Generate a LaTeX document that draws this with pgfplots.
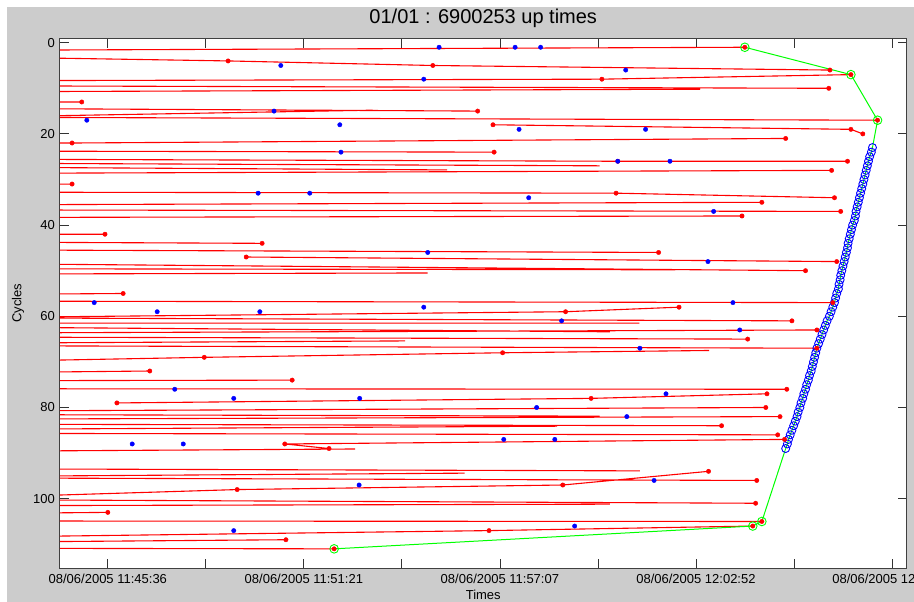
\documentclass[border=0pt]{standalone}
\usepackage{fontspec}
\setmainfont{Liberation Sans}
\usepackage{pgfplots}
\usepackage{pgfplotstable}
\pgfplotsset{compat=1.18}
\definecolor{figbg}{RGB}{204,204,204}
\definecolor{mred}{RGB}{255,0,0}
\definecolor{mblue}{RGB}{0,0,255}
\definecolor{mgreen}{RGB}{0,255,0}
\pgfplotstableread{
t c
1348 23
1346 24
1343 25
1341 26
1339 27
1337 28
1335 29
1333 30
1331 31
1329 32
1327 33
1325 34
1323 35
1321 36
1319 37
1318 38
1316 39
1313 40
1311 41
1309 42
1307 43
1305 44
1304 45
1302 46
1300 47
1298 48
1296 49
1294 50
1292 51
1291 52
1289 53
1288 54
1285 55
1283 56
1281 57
1278 58
1275 59
1272 60
1268 61
1265 62
1262 63
1259 64
1256 65
1253 66
1250 67
1248 68
1246 69
1244 70
1242 71
1240 72
1237 73
1235 74
1232 75
1230 76
1227 77
1225 78
1222 79
1220 80
1217 81
1215 82
1212 83
1209 84
1206 85
1203 86
1200 87
1198 88
1195 89
}\circles
\pgfplotstableread{
t c
1123 1
1310 7
1357 17
1348 23
1346 24
1343 25
1341 26
1339 27
1337 28
1335 29
1333 30
1331 31
1329 32
1327 33
1325 34
1323 35
1321 36
1319 37
1318 38
1316 39
1313 40
1311 41
1309 42
1307 43
1305 44
1304 45
1302 46
1300 47
1298 48
1296 49
1294 50
1292 51
1291 52
1289 53
1288 54
1285 55
1283 56
1281 57
1278 58
1275 59
1272 60
1268 61
1265 62
1262 63
1259 64
1256 65
1253 66
1250 67
1248 68
1246 69
1244 70
1242 71
1240 72
1237 73
1235 74
1232 75
1230 76
1227 77
1225 78
1222 79
1220 80
1217 81
1215 82
1212 83
1209 84
1206 85
1203 86
1200 87
1198 88
1195 89
1153 105
1137 106
399 111
}\hull
\begin{document}
\begin{tikzpicture}
\useasboundingbox (0pt,0pt) rectangle (914pt,602pt);
\fill[white] (0pt,0pt) rectangle (914pt,602pt);
\fill[figbg] (7pt,0pt) rectangle (914pt,595.3pt);
\begin{axis}[
  at={(60pt,34pt)}, anchor=south west, scale only axis,
  width=846.5pt, height=529.5pt,
  xmin=-84.3, xmax=1408, ymin=-0.92, ymax=115.2, y dir=reverse,
  axis background/.style={fill=white},
  axis line style={black!75, line width=1pt},
  major tick style={black!80, line width=0.8pt},
  tick align=inside, major tick length=9pt,
  xtick={0,172.8,345.6,518.4,691.2,864,1036.8,1209.6,1382.4},
  xticklabels={08/06/2005 11:45:36,,08/06/2005 11:51:21,,08/06/2005 11:57:07,,08/06/2005 12:02:52,,08/06/2005 12:08:38},
  ytick={0,20,40,60,80,100},
  /pgf/number format/assume math mode=true,
  xticklabel style={font=\fontsize{13}{15}\selectfont, anchor=center, yshift=-11pt},
  yticklabel style={font=\fontsize{13}{15}\selectfont, anchor=east, inner sep=0pt, xshift=-5pt},
  title={01/01 : 6900253 up times},
  title style={font=\fontsize{20}{23}\selectfont, at={(axis description cs:0.5,1.0265)}, anchor=center},
  xlabel={Times},
  xlabel style={font=\fontsize{13}{15}\selectfont, at={(axis description cs:0.5,-0.051)}, anchor=center},
  ylabel={Cycles},
  ylabel style={font=\fontsize{13}{15}\selectfont, at={(axis description cs:-0.0496,0.5)}, anchor=center},
  unbounded coords=jump,
]
% red up-time lines
\addplot[mred, line width=1.1pt, no markers] coordinates {
(-85,1.6) (1123,1) (nan,nan)
(-85,3.4) (212,4) (573,5) (1273,6) (nan,nan)
(-85,8.3) (871,8) (1310,7) (nan,nan)
(-85,9.5) (1271,10) (nan,nan)
(-85,10.7) (1044,10.2) (nan,nan)
(-85,13) (-46,13) (nan,nan)
(-85,14.5) (652,15) (nan,nan)
(-85,16) (467,14.8) (nan,nan)
(-85,16.4) (1357,17) (nan,nan)
(679,18) (1310,19) (1331,20) (nan,nan)
(-85,22) (-63,22) (1195,21) (nan,nan)
(-85,23.8) (681,24) (nan,nan)
(-85,25.6) (899,26) (1304,26) (nan,nan)
(-85,26.5) (867,27) (nan,nan)
(-85,27.4) (598,27.9) (nan,nan)
(-85,28.6) (1276,28) (nan,nan)
(-85,31) (-63,31) (nan,nan)
(-85,32.8) (896,33) (1281,34) (nan,nan)
(-85,35.5) (1153,35) (nan,nan)
(-85,36.7) (1292,37) (nan,nan)
(-85,38.3) (1118,38) (nan,nan)
(-85,42) (-5,42) (nan,nan)
(-85,43.8) (272,44) (nan,nan)
(-85,45.5) (971,46) (nan,nan)
(244,47) (1285,48) (nan,nan)
(-85,48.6) (1230,50) (nan,nan)
(-85,49.6) (1000,49.8) (nan,nan)
(-85,50.7) (564,50.5) (nan,nan)
(-85,55.1) (27,55) (nan,nan)
(-85,56.7) (1278,57) (nan,nan)
(-85,60.1) (807,59) (1007,58) (nan,nan)
(-85,60.4) (1206,61) (nan,nan)
(-85,61.5) (937,61.5) (nan,nan)
(-85,62.5) (885,63.4) (nan,nan)
(-85,63.6) (1250,63) (nan,nan)
(-85,64.6) (1128,65) (nan,nan)
(-85,65.8) (524,65.4) (nan,nan)
(-85,66.5) (1250,67) (nan,nan)
(-85,69.6) (170,69) (696,68) (1060,67.5) (nan,nan)
(-85,72.2) (74,72) (nan,nan)
(-85,74.1) (325,74) (nan,nan)
(-85,75.9) (1197,76) (nan,nan)
(16,79) (852,78) (1162,77) (nan,nan)
(-85,80.7) (1160,80) (nan,nan)
(-85,81.6) (867,81.9) (nan,nan)
(-85,82.5) (1185,82) (nan,nan)
(-85,83.7) (1082,84) (nan,nan)
(-85,84.7) (792,84.1) (nan,nan)
(-85,85.7) (1181,86) (nan,nan)
(312,88) (1193,87) (nan,nan)
(312,88) (390,89) (nan,nan)
(-85,89.5) (436,89.1) (nan,nan)
(-85,93.5) (938,93.9) (nan,nan)
(-85,95) (629,94.4) (nan,nan)
(-85,95.5) (1144,96) (nan,nan)
(-85,99.2) (228,98) (802,97) (1059,94) (nan,nan)
(-85,100.3) (1142,101) (nan,nan)
(-85,101.5) (885,101.2) (nan,nan)
(-85,103.1) (0,103) (nan,nan)
(-85,104.9) (1153,105) (nan,nan)
(-85,108.2) (672,107) (1137,106) (nan,nan)
(-85,109.4) (314,109) (nan,nan)
(-85,110.9) (399,111)
};
% blue circles
\addplot[only marks, mark=o, mark size=4pt, mblue, mark options={line width=0.9pt}] table[x=t, y=c] {\circles};
% green envelope
\addplot[mgreen, line width=1pt, no markers] table[x=t, y=c] {\hull};
\addplot[only marks, mark=o, mark size=4.3pt, mgreen, mark options={line width=0.9pt}] coordinates {
(1123,1) (1310,7) (1357,17) (1153,105) (1137,106) (399,111)};
% red dots
\addplot[only marks, mark=*, mark size=2.2pt, mred] coordinates {
(1123,1) (212,4) (573,5) (1273,6) (1310,7) (871,8) (1271,10) (-46,13) (652,15)
(679,18) (1357,17) (1310,19) (1331,20) (1195,21) (-63,22) (681,24) (899,26) (1304,26)
(1276,28) (-63,31) (896,33) (1281,34) (1153,35) (1292,37) (1118,38) (-5,42) (272,44)
(244,47) (971,46) (1285,48) (1230,50) (27,55) (1278,57) (1007,58) (807,59) (1206,61)
(1250,63) (1128,65) (1250,67) (170,69) (696,68) (74,72) (325,74) (16,79) (852,78)
(1197,76) (1162,77) (1160,80) (1185,82) (1082,84) (1181,86) (1193,87) (312,88) (390,89)
(1059,94) (1144,96) (228,98) (802,97) (1142,101) (0,103) (314,109) (672,107) (1153,105)
(1137,106) (399,111)};
% blue dots
\addplot[only marks, mark=*, mark size=2.2pt, mblue] coordinates {
(584,1) (718,1) (763,1) (305,5) (913,6) (557,8) (293,15) (-37,17) (409,18) (725,19)
(948,19) (411,24) (899,26) (991,26) (265,33) (356,33) (742,34) (1068,37) (564,46)
(1058,48) (1102,57) (-24,57) (87,59) (268,59) (557,58) (800,61) (1114,63) (938,67)
(118,76) (222,78) (444,78) (984,77) (756,80) (915,82) (43,88) (133,88) (698,87)
(788,87) (443,97) (963,96) (222,107) (823,106)};
\end{axis}
\end{tikzpicture}
\end{document}
